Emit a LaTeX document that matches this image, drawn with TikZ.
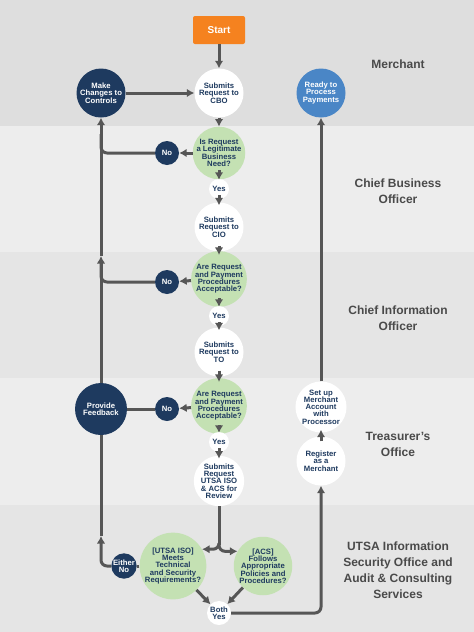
\documentclass[tikz,border=0pt]{standalone}
\usepackage{fontspec}
\setmainfont{Liberation Sans}
\usetikzlibrary{arrows.meta,positioning}
\definecolor{navy}{HTML}{1E3A5F}
\definecolor{skyblue}{HTML}{4A86C6}
\definecolor{sage}{HTML}{C4E1B3}
\definecolor{tangerine}{HTML}{F5821F}
\definecolor{wire}{HTML}{565656}
\definecolor{lanegray}{HTML}{4A4A4A}
\tikzset{%
  >={Latex[width=8.5pt,length=7.5pt]},
  % Specifications for style of nodes:
       bubble/.style = {circle, inner sep=0pt, minimum size=49pt, align=center,
                        text=navy, font=\bfseries\fontsize{7.7}{7.3}\selectfont},
     askstep/.style = {bubble, fill=sage},
    workstep/.style = {bubble, fill=white},
    navystep/.style = {bubble, fill=navy, text=white},
     answer/.style = {bubble, minimum size=20pt},
    noanswer/.style = {answer, fill=navy, text=white, minimum size=24pt},
   yesanswer/.style = {answer, fill=white},
   startbox/.style = {rectangle, rounded corners=2pt, fill=tangerine, text=white,
                      minimum width=52pt, minimum height=28pt,
                      font=\bfseries\fontsize{10}{10}\selectfont},
  lanelabel/.style = {align=center, text=lanegray,
                      font=\bfseries\fontsize{12}{16}\selectfont},
       flow/.style = {draw=wire, line width=3pt},
}
\begin{document}
\begin{tikzpicture}[x=1pt, y=-1pt]
  \useasboundingbox (0,0) rectangle (474,632);
  % swim lanes
  \fill[black!13] (0,0) rectangle (474,126);
  \fill[black!7] (0,126) rectangle (474,252);
  \fill[black!10] (0,252) rectangle (474,378);
  \fill[black!7] (0,378) rectangle (474,505);
  \fill[black!10] (0,505) rectangle (474,632);
  \node[lanelabel] (lmer) at (398,64)  {Merchant};
  \node[lanelabel] (lcbo) at (398,191) {Chief Business\\Officer};
  \node[lanelabel] (lcio) at (398,318) {Chief Information\\Officer};
  \node[lanelabel] (ltre) at (398,444) {Treasurer's\\Office};
  \node[lanelabel] (luts) at (398,570) {UTSA Information\\Security Office and\\Audit \& Consulting\\Services};
  % Specification of nodes (position, etc.)
  \node[startbox]  (start)  at (219,30)  {Start};
  \node[workstep]  (tocbo)  at (219,93)  {Submits\\Request to\\CBO};
  \node[navystep]  (make)   at (101,93)  {Make\\Changes to\\Controls};
  \node[bubble, fill=skyblue, text=white] (ready) at (321,93) {Ready to\\Process\\Payments};
  \node[askstep]   (askcbo) at (219,153) {Is Request\\a Legitimate\\Business\\Need?};
  \node[noanswer]  (nocbo)  at (167,153) {No};
  \node[yesanswer] (yescbo) at (219,189) {Yes};
  \node[workstep]  (tocio)  at (219,227) {Submits\\Request to\\CIO};
  \node[askstep]   (askcio) at (219,279) {Are Request\\and Payment\\Procedures\\Acceptable?};
  \node[noanswer]  (nocio)  at (167,282) {No};
  \node[yesanswer] (yescio) at (219,316) {Yes};
  \node[workstep]  (toto)   at (219,352) {Submits\\Request to\\TO};
  \node[askstep]   (askto)  at (219,406) {Are Request\\and Payment\\Procedures\\Acceptable?};
  \node[noanswer]  (noto)   at (167,409) {No};
  \node[navystep, minimum size=52pt] (feedback) at (101,409) {Provide\\Feedback};
  \node[yesanswer] (yesto)  at (219,442) {Yes};
  \node[workstep]  (toiso)  at (219,481) {Submits\\Request\\UTSA ISO\\\& ACS for\\Review};
  \node[workstep]  (setup)  at (321,407) {Set up\\Merchant\\Account\\with\\Processor};
  \node[workstep]  (regist) at (321,461) {Register\\as a\\Merchant};
  \node[askstep]   (askiso) at (173,566) {[UTSA ISO]\\Meets\\Technical\\and Security\\Requirements?};
  \node[askstep]   (askacs) at (263,566) {[ACS]\\Follows\\Appropriate\\Policies and\\Procedures?};
  \node[noanswer]  (eitherno) at (124,566) {Either\\No};
  \node[yesanswer, minimum size=24pt] (bothyes) at (219,613) {Both\\Yes};
  \coordinate (upcbo) at (101,134);
  \coordinate (upcio) at (101,262);
  \coordinate (midup) at (101,256);
  \coordinate (lowup) at (101,536);
  \coordinate (split) at (219,545);
  % Specification of lines between nodes specified above
  % (short links start inside the circle above them)
  \draw[flow, ->] (start) -- (tocbo);
  \draw[flow, ->] (make) -- (tocbo);
  \draw[flow, ->] (tocbo) -- (askcbo);
  \draw[flow, ->] (askcbo) -- (nocbo);
  \draw[flow, ->] ([yshift=9pt]askcbo.south) -- ([yshift=-1pt]yescbo.north);
  \draw[flow, ->] ([yshift=4pt]yescbo.south) -- ([yshift=-3pt]tocio.north);
  \draw[flow, ->] ([yshift=6pt]tocio.south) -- ([yshift=-4pt]askcio.north);
  \draw[flow, ->] (askcio) -- (nocio);
  \draw[flow, ->] ([yshift=9pt]askcio.south) -- ([yshift=-1pt]yescio.north);
  \draw[flow, ->] ([yshift=4pt]yescio.south) -- ([yshift=-3pt]toto.north);
  \draw[flow, ->] ([yshift=6pt]toto.south) -- ([yshift=-4pt]askto.north);
  \draw[flow, ->] (askto) -- (noto);
  \draw[flow, ->] ([yshift=9pt]askto.south) -- ([yshift=-1pt]yesto.north);
  \draw[flow, ->] ([yshift=4pt]yesto.south) -- ([yshift=-3pt]toiso.north);
  \draw[flow] (noto) -- (feedback);
  \draw[flow, rounded corners=6pt] (nocbo.west) -| (upcbo);
  \draw[flow, rounded corners=6pt] (nocio.west) -| (upcio);
  \draw[flow, ->] (feedback) -- (midup);
  \draw[flow, ->] (midup) -- (make);
  \draw[flow] (askiso) -- (eitherno);
  \draw[flow, ->, rounded corners=6pt] (eitherno.west) -| (lowup);
  \draw[flow] (lowup) -- (feedback);
  \draw[flow] (toiso) -- (split);
  \draw[flow, ->, rounded corners=6pt] (split) |- (askiso.30);
  \draw[flow, ->, rounded corners=6pt] (split) |- (askacs.150);
  \draw[flow, ->] (askiso) -- (bothyes);
  \draw[flow, ->] (askacs) -- (bothyes);
  \draw[flow, ->, rounded corners=6pt] (bothyes.east) -| (regist);
  \draw[flow, ->] ([yshift=-5pt]regist.north) -- ([yshift=3pt]setup.south);
  \draw[flow, ->] (setup) -- (ready);
\end{tikzpicture}
\end{document}
